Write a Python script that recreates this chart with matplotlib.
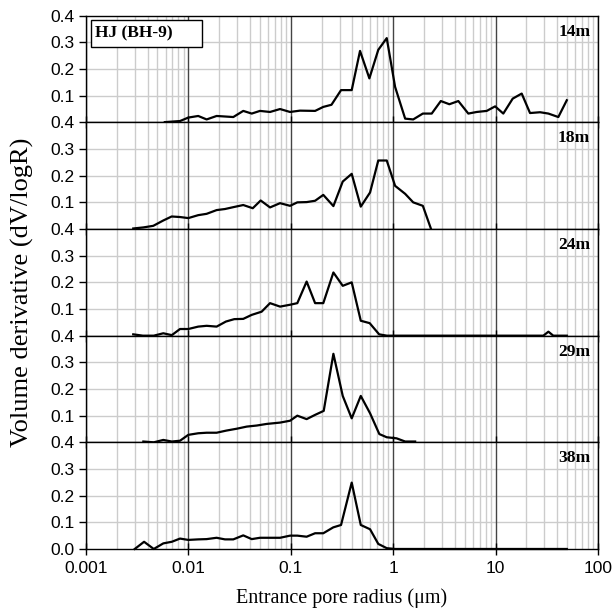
import numpy as np
import matplotlib
matplotlib.use('Agg')
import matplotlib.pyplot as plt
from matplotlib.ticker import LogLocator, FixedLocator, NullFormatter
from matplotlib.patches import Rectangle

# depth labels
depths = ['14m', '18m', '24m', '29m', '38m']

# 14m
r_14 = [0.0059, 0.0083, 0.010, 0.0125, 0.0151, 0.0189, 0.0275, 0.0344, 0.0416, 0.0501,
        0.0628, 0.0787, 0.0985, 0.123, 0.173, 0.208, 0.250, 0.31, 0.394, 0.475,
        0.586, 0.716, 0.866, 1.045, 1.31, 1.57, 1.95, 2.38, 2.92, 3.54,
        4.33, 5.42, 6.55, 8.2, 9.9, 11.9, 14.7, 18.0, 21.7, 27.2,
        32.8, 41.0, 49.6]
v_14 = [0.001, 0.005, 0.018, 0.024, 0.011, 0.024, 0.020, 0.043, 0.033, 0.043,
        0.039, 0.050, 0.039, 0.044, 0.043, 0.058, 0.066, 0.121, 0.121, 0.268,
        0.165, 0.272, 0.316, 0.133, 0.014, 0.011, 0.033, 0.033, 0.080, 0.068,
        0.080, 0.033, 0.039, 0.043, 0.060, 0.033, 0.089, 0.108, 0.035, 0.038,
        0.033, 0.020, 0.083]

# 18m
r_18 = [0.0029, 0.00364, 0.00455, 0.0057, 0.00688, 0.0083, 0.010, 0.0125, 0.0151, 0.0189,
        0.0228, 0.0275, 0.0344, 0.0426, 0.0509, 0.0628, 0.0787, 0.0985, 0.116, 0.143,
        0.173, 0.208, 0.261, 0.322, 0.394, 0.483, 0.595, 0.716, 0.866, 1.045,
        1.31, 1.57, 1.95, 2.33]
v_18 = [0.002, 0.006, 0.012, 0.032, 0.047, 0.045, 0.041, 0.052, 0.057, 0.071,
        0.075, 0.082, 0.090, 0.078, 0.107, 0.081, 0.097, 0.087, 0.100, 0.101,
        0.106, 0.128, 0.086, 0.178, 0.207, 0.084, 0.137, 0.257, 0.257, 0.162,
        0.132, 0.100, 0.087, 0.003]

# 24m
r_24 = [0.0029, 0.0036, 0.0046, 0.0057, 0.0069, 0.0083, 0.010, 0.0125, 0.0151, 0.0189,
        0.0233, 0.0281, 0.0344, 0.0416, 0.052, 0.0628, 0.0787, 0.0985, 0.116, 0.143,
        0.173, 0.208, 0.261, 0.322, 0.394, 0.483, 0.59, 0.73, 0.87, 29.3,
        32.8, 36.6, 49.6]
v_24 = [0.005, 0.0, 0.0, 0.009, 0.002, 0.025, 0.025, 0.034, 0.037, 0.034,
        0.053, 0.062, 0.063, 0.078, 0.090, 0.122, 0.109, 0.116, 0.122, 0.203,
        0.122, 0.122, 0.237, 0.187, 0.200, 0.056, 0.047, 0.005, 0.0, 0.0,
        0.015, 0.0, 0.0]

# 29m
r_29 = [0.00364, 0.0046, 0.0057, 0.0069, 0.0083, 0.010, 0.0125, 0.0151, 0.0189, 0.0235,
        0.0297, 0.0372, 0.0466, 0.0583, 0.0787, 0.0985, 0.116, 0.143, 0.173, 0.21,
        0.261, 0.322, 0.394, 0.483, 0.595, 0.733, 0.866, 1.08, 1.31, 1.64]
v_29 = [0.003, 0.0, 0.009, 0.003, 0.006, 0.028, 0.034, 0.036, 0.036, 0.044,
        0.051, 0.059, 0.063, 0.069, 0.074, 0.081, 0.100, 0.087, 0.103, 0.118,
        0.332, 0.174, 0.090, 0.174, 0.109, 0.031, 0.019, 0.015, 0.003, 0.003]

# 38m
r_38 = [0.0030, 0.0037, 0.0046, 0.0057, 0.0069, 0.0083, 0.010, 0.0125, 0.0151, 0.0189,
        0.0228, 0.0275, 0.0344, 0.0416, 0.0501, 0.0628, 0.0787, 0.0985, 0.116, 0.143,
        0.173, 0.208, 0.26, 0.31, 0.394, 0.483, 0.595, 0.716, 0.866, 1.045,
        49.6]
v_38 = [0.0, 0.027, 0.0, 0.021, 0.027, 0.039, 0.034, 0.036, 0.037, 0.042,
        0.036, 0.036, 0.051, 0.037, 0.042, 0.042, 0.042, 0.050, 0.050, 0.046,
        0.059, 0.059, 0.081, 0.090, 0.249, 0.090, 0.074, 0.019, 0.003, 0.0,
        0.0]

radii = [r_14, r_18, r_24, r_29, r_38]
values = [v_14, v_18, v_24, v_29, v_38]

plt.rcParams['font.family'] = ['Liberation Sans', 'DejaVu Sans']
serif = ['Liberation Serif', 'DejaVu Serif']

fig, axes = plt.subplots(5, 1, figsize=(6.13, 6.14), dpi=100, sharex=True)
fig.subplots_adjust(left=0.1401, right=0.9755, top=0.9744, bottom=0.1059, hspace=0)

for i, ax in enumerate(axes):
    ax.plot(radii[i], values[i], color='black', linewidth=1.6, zorder=5, clip_on=False)
    ax.set_xscale('log')
    ax.set_xlim(0.001, 100)
    ax.set_ylim(0, 0.4)

    ax.xaxis.set_major_locator(LogLocator(base=10, numticks=10))
    ax.xaxis.set_minor_locator(LogLocator(base=10, subs=np.arange(2, 10), numticks=20))
    ax.xaxis.set_minor_formatter(NullFormatter())
    ax.grid(True, which='minor', axis='x', color='#cccccc', linewidth=1.0, zorder=0)
    ax.grid(True, which='major', axis='x', color='#444444', linewidth=1.0, zorder=1)

    if i == 4:
        yt = [0.0, 0.1, 0.2, 0.3, 0.4]
    else:
        yt = [0.1, 0.2, 0.3, 0.4]
    ax.yaxis.set_major_locator(FixedLocator(yt))
    ax.set_yticklabels(['%.1f' % t for t in yt])
    for g in [0.1, 0.2, 0.3]:
        ax.axhline(g, color='#cccccc', linewidth=1.0, zorder=0)

    ax.tick_params(axis='y', direction='out', length=5, width=1, labelsize=12.5, pad=3)
    ax.tick_params(axis='x', which='major', direction='inout', length=8, width=1,
                   labelsize=12.5, pad=5)
    ax.tick_params(axis='x', which='minor', length=0)
    for s in ax.spines.values():
        s.set_color('black')
        s.set_linewidth(1.0)

    ax.text(0.985, 0.85, depths[i], transform=ax.transAxes, ha='right', va='center',
            fontsize=12.5, fontweight='bold', family=serif, zorder=6)

axes[4].set_xticks([0.001, 0.01, 0.1, 1, 10, 100])
axes[4].set_xticklabels(['0.001', '0.01', '0.1', '1', '10', '100'])

# label box in the first panel
axes[0].add_patch(Rectangle((0.01, 0.704), 0.217, 0.256, transform=axes[0].transAxes,
                            facecolor='white', edgecolor='black', linewidth=1.0, zorder=7))
axes[0].text(0.018, 0.835, 'HJ (BH-9)', transform=axes[0].transAxes, ha='left', va='center',
             fontsize=12.5, fontweight='bold', family=serif, zorder=8)

fig.text(0.5578, 0.026, 'Entrance pore radius (\u03bcm)', ha='center', va='center',
         family=serif, fontsize=14.5)
fig.text(0.036, 0.524, 'Volume derivative (dV/logR)', rotation=90, ha='center', va='center',
         family=serif, fontsize=19)

plt.savefig('out.png', dpi=100)
